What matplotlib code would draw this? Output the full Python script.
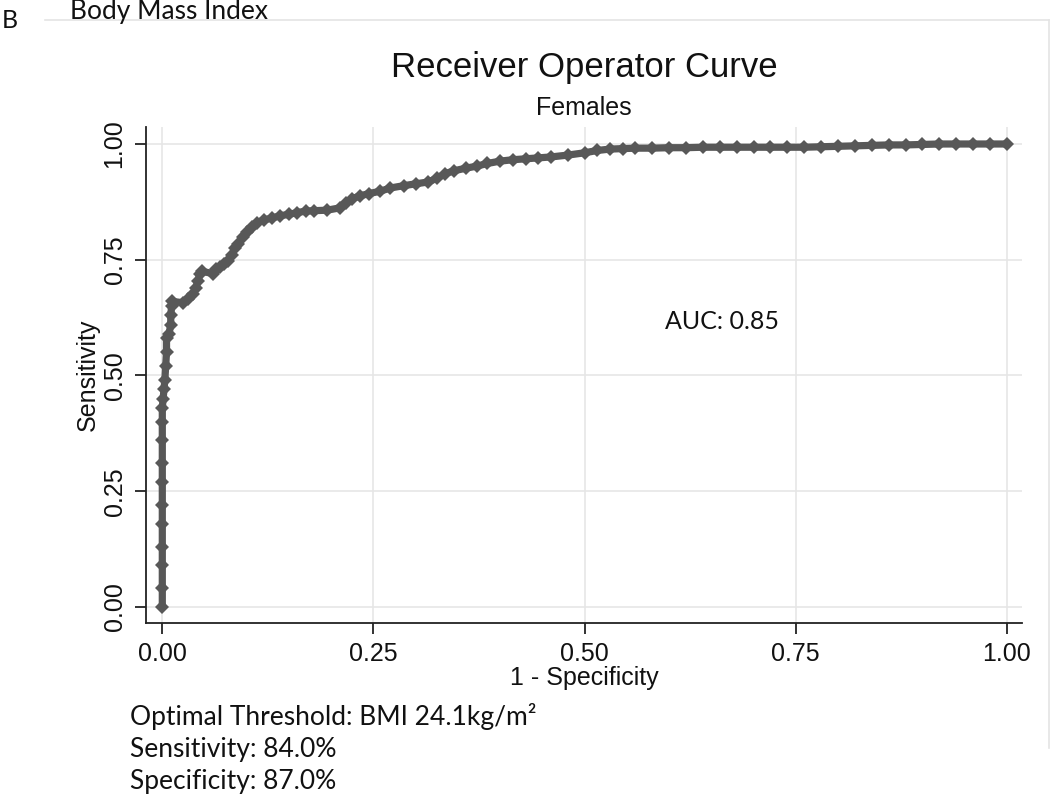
"""
ROC curve for BMI (females) - recreated from figure panel B
"""

import matplotlib
matplotlib.use('Agg')
import matplotlib.pyplot as plt
from matplotlib.lines import Line2D

# ---------------------------------------------------------------------------
# Data
# ---------------------------------------------------------------------------
fpr = [0.000, 0.000, 0.000, 0.000, 0.000, 0.000, 0.000, 0.000, 0.000, 0.000,
       0.000, 0.001, 0.002, 0.003, 0.004, 0.005, 0.005, 0.008, 0.010, 0.010,
       0.011, 0.012, 0.025, 0.030, 0.036, 0.040, 0.042, 0.045, 0.047, 0.060,
       0.064, 0.068, 0.073, 0.078, 0.082, 0.086, 0.090, 0.095, 0.100, 0.106,
       0.112, 0.120, 0.130, 0.139, 0.150, 0.160, 0.170, 0.180, 0.195, 0.210,
       0.218, 0.225, 0.234, 0.245, 0.258, 0.270, 0.286, 0.300, 0.315, 0.325,
       0.335, 0.345, 0.360, 0.372, 0.385, 0.400, 0.415, 0.430, 0.445, 0.460,
       0.480, 0.500, 0.515, 0.530, 0.545, 0.560, 0.580, 0.600, 0.620, 0.640,
       0.660, 0.680, 0.700, 0.720, 0.740, 0.760, 0.780, 0.800, 0.820, 0.840,
       0.860, 0.880, 0.900, 0.920, 0.940, 0.960, 0.980, 1.000]
tpr = [0.000, 0.040, 0.090, 0.130, 0.180, 0.220, 0.270, 0.310, 0.360, 0.400,
       0.430, 0.450, 0.470, 0.490, 0.520, 0.550, 0.580, 0.590, 0.610, 0.630,
       0.650, 0.660, 0.657, 0.665, 0.675, 0.690, 0.705, 0.720, 0.725, 0.720,
       0.730, 0.735, 0.740, 0.748, 0.760, 0.775, 0.785, 0.800, 0.810, 0.820,
       0.830, 0.836, 0.840, 0.845, 0.848, 0.852, 0.855, 0.856, 0.857, 0.862,
       0.872, 0.882, 0.888, 0.893, 0.898, 0.905, 0.910, 0.914, 0.918, 0.926,
       0.936, 0.942, 0.948, 0.952, 0.958, 0.963, 0.966, 0.968, 0.970, 0.972,
       0.976, 0.981, 0.986, 0.989, 0.990, 0.991, 0.991, 0.992, 0.992, 0.993,
       0.993, 0.993, 0.993, 0.993, 0.993, 0.993, 0.994, 0.995, 0.996, 0.997,
       0.998, 0.998, 0.999, 1.000, 1.000, 1.000, 1.000, 1.000]

ticks = [0.0, 0.25, 0.5, 0.75, 1.0]
tick_labels = ['0.00', '0.25', '0.50', '0.75', '1.00']

auc_text = 'AUC: 0.85'
summary_lines = ['Optimal Threshold: BMI 24.1kg/m\u00b2',
                 'Sensitivity: 84.0%',
                 'Specificity: 87.0%']

W, H = 1050, 796
stata_font = ['Liberation Sans', 'DejaVu Sans']
office_font = ['Lato', 'DejaVu Sans']
plt.rcParams['font.family'] = stata_font

fig = plt.figure(figsize=(W / 100, H / 100), dpi=100)
fig.patch.set_facecolor('white')


def fx(px):
    return px / W


def fy(py):
    return 1 - py / H


# Axes placed to match the Stata graph region
ax = fig.add_axes([fx(146), fy(623), fx(1022) - fx(146), fy(127) - fy(623)])

# thick connected line + diamond markers, like Stata's roctab plot
ax.plot(fpr, tpr, color='#585858', linewidth=5.2, solid_joinstyle='round',
        solid_capstyle='round', marker='D', markersize=6.8,
        markeredgewidth=0, zorder=3)

ax.set_xlim(-0.0193, 1.0178)
ax.set_ylim(-0.0346, 1.0367)
ax.set_xticks(ticks)
ax.set_yticks(ticks)
ax.set_xticklabels(tick_labels, fontsize=18, color='#111111')
ax.set_yticklabels(tick_labels, fontsize=18, color='#111111',
                   rotation=90, va='center')
ax.tick_params(axis='both', direction='out', length=8, width=1.3, color='#222222')
ax.tick_params(axis='x', pad=6)
ax.tick_params(axis='y', pad=6)

ax.grid(True, color='#e6e6e6', linewidth=1.2, zorder=0)
ax.set_axisbelow(True)
for side in ['top', 'right']:
    ax.spines[side].set_visible(False)
for side in ['left', 'bottom']:
    ax.spines[side].set_linewidth(1.3)
    ax.spines[side].set_color('#222222')

ax.set_xlabel('1 - Specificity', fontsize=18, labelpad=0, color='#111111')
ax.set_ylabel('Sensitivity', fontsize=18, labelpad=2, color='#111111')

# Titles
fig.text(fx(584), fy(68), 'Receiver Operator Curve', fontsize=25,
         ha='center', va='center', color='#111111')
fig.text(fx(584), fy(108), 'Females', fontsize=18,
         ha='center', va='center', color='#111111')

# Annotations (Word-style text around the graph)
fig.text(fx(665), fy(322), auc_text, family=office_font, fontsize=18,
         ha='left', va='center', color='#111111')
fig.text(fx(2), fy(21), 'B', family=office_font, fontsize=18,
         ha='left', va='center', color='#111111')
fig.text(fx(70), fy(11), 'Body Mass Index', family=office_font, fontsize=19,
         ha='left', va='center', color='#111111')
for i, line in enumerate(summary_lines):
    fig.text(fx(130), fy(716 + 33 * i), line, family=office_font, fontsize=19,
             ha='left', va='center', color='#111111')

# Faint frame edge of the pasted graph
fig.add_artist(Line2D([fx(45), fx(1049)], [fy(20), fy(20)], color='#e4e4e4',
                      linewidth=1.2))
fig.add_artist(Line2D([fx(1049), fx(1049)], [fy(20), fy(748)], color='#e4e4e4',
                      linewidth=1.2))

plt.savefig('out.png', dpi=100, facecolor='white')
plt.close()
